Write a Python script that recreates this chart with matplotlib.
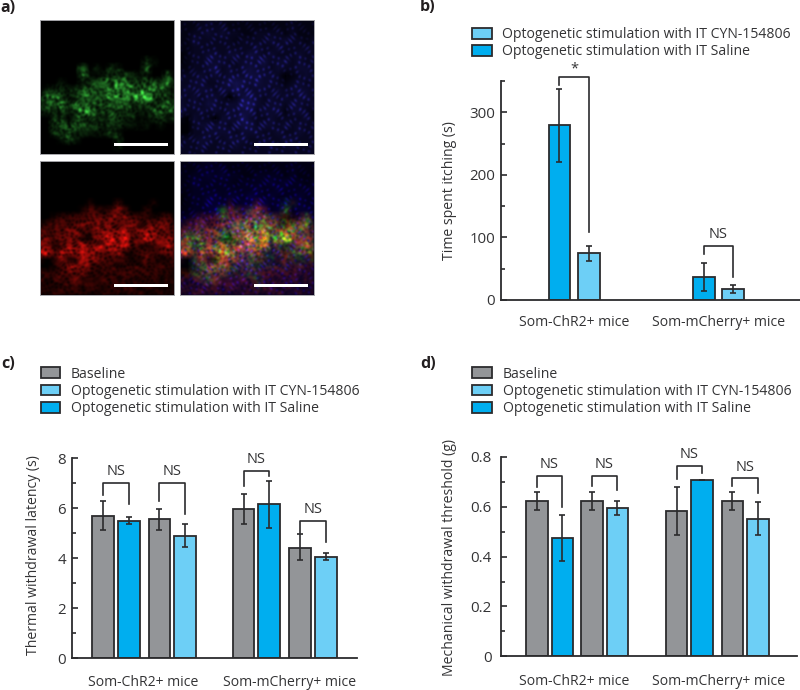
import numpy as np
import matplotlib
matplotlib.use("Agg")
import matplotlib.pyplot as plt
from matplotlib.patches import Patch, Rectangle

plt.rcParams['font.family'] = ['Open Sans', 'DejaVu Sans']

# ---- data ----
groups = ["Som-ChR2+ mice", "Som-mCherry+ mice"]
legend_labels = ["Baseline", "Optogenetic stimulation with IT CYN-154806", "Optogenetic stimulation with IT Saline"]

# panel b
b_values = [279, 74.7, 37.3, 17.6]
b_upper = [336.5, 86.4, 59, 23.5]
b_lower = [220.8, 63, 15, 11.2]
b_ticks = [0, 100, 200, 300]
b_minor = [50, 150, 250, 350]
# bracket: left bar, right bar, top, left end, right end, text
b_brackets = [(0, 1, 356, 344, 108, "*"), (2, 3, 86.4, 73.6, 37.3, "NS")]

# panel c
c_values = [5.7, 5.5, 5.55, 4.87, 5.95, 6.15, 4.42, 4.05]
c_upper = [6.27, 5.64, 5.95, 5.35, 6.55, 7.09, 4.95, 4.2]
c_lower = [5.13, 5.36, 5.11, 4.43, 5.35, 5.2, 3.91, 3.92]
c_ticks = [0, 2, 4, 6, 8]
c_minor = [1, 3, 5, 7]
c_brackets = [(0, 1, 7.0, 6.53, 6.16, "NS"), (2, 3, 7.01, 6.27, 5.76, "NS"),
              (4, 5, 7.48, 6.89, 7.28, "NS"), (6, 7, 5.49, 5.01, 4.65, "NS")]

# panel d
d_values = [0.625, 0.474, 0.625, 0.594, 0.582, 0.709, 0.625, 0.551]
d_upper = [0.66, 0.566, 0.66, 0.623, 0.68, 0.709, 0.66, 0.618]
d_lower = [0.586, 0.383, 0.586, 0.567, 0.487, 0.709, 0.586, 0.487]
d_ticks = [0, 0.2, 0.4, 0.6, 0.8]
d_tick_labels = ["0", "0.2", "0.4", "0.6", "0.8"]
d_minor = [0.1, 0.3, 0.5, 0.7]
d_brackets = [(0, 1, 0.724, 0.681, 0.60, "NS"), (2, 3, 0.725, 0.684, 0.666, "NS"),
              (4, 5, 0.764, 0.71, 0.737, "NS"), (6, 7, 0.714, 0.684, 0.657, "NS")]

# micrographs, coarse brightness read by eye (0-9), 20 x 20 cells
green_rows = [
    "00000000000000000000",
    "00000000000000000000",
    "00000000000000000000",
    "00000000000000000000",
    "00000000000000000000",
    "00000000000000000000",
    "00000000000000021000",
    "00000050102200040000",
    "00000041022342110040",
    "00010012356654344242",
    "02221235348764467422",
    "34531452346565993322",
    "33362546433453432253",
    "12222365324332213334",
    "00230243222312011212",
    "00333432212211110100",
    "00224221113100000000",
    "00013100000300000000",
    "00000000000100000000",
    "00000000000000000000",
]
red_rows = [
    "00000000000000000000",
    "00000000000000000000",
    "00000000000000000000",
    "00000000000000000000",
    "00000000000000000000",
    "00000000000000000000",
    "00000001000300001000",
    "00000013212530020000",
    "00122334435443221230",
    "12333444555445334442",
    "33334532555764567443",
    "44345511579683487453",
    "54135765768773312464",
    "88376776544611332343",
    "10151166443321132112",
    "00136553232222222222",
    "22233342222222222221",
    "21222322122221222121",
    "12122212212122121111",
    "21221221121212211211",
]
blue_rows = [
    "11112111111111111111",
    "11122221111111112111",
    "11223232211222212111",
    "11322222122223232212",
    "11222222222322322222",
    "01223323324323222322",
    "01223332233342332322",
    "11223423234332322332",
    "22232323334433201232",
    "22332234543433212322",
    "23233233533332323332",
    "32323320244323232332",
    "32324323355323323323",
    "42232323344233313321",
    "10322033353223222231",
    "00233332344233232322",
    "00223333233322322322",
    "22233223332232233222",
    "22232232322223223222",
    "22222222222222222222",
]

# ---- colours ----
gray = "#939598"
cyn = "#6dcff6"
saline = "#00aeef"
dark = "#2b2b2d"
text_col = "#333335"
font_size = 10.1

W, H = 800.0, 690.0
fig = plt.figure(figsize=(8, 6.9), dpi=100)


def px_axes(x0, x1, y_top, y_bottom):
    return fig.add_axes([x0 / W, 1 - y_bottom / H, (x1 - x0) / W, (y_bottom - y_top) / H])


def upsample(rows, n=134):
    a = np.array([[int(c) for c in r] for r in rows], dtype=float) / 9.0
    src = np.linspace(0, n - 1, a.shape[0])
    dst = np.arange(n)
    a = np.array([np.interp(dst, src, row) for row in a])
    return np.array([np.interp(dst, src, col) for col in a.T]).T


def soften(a):
    k = np.array([1, 2, 1]) / 4.0
    a = np.apply_along_axis(lambda v: np.convolve(v, k, mode="same"), 0, a)
    return np.apply_along_axis(lambda v: np.convolve(v, k, mode="same"), 1, a)


def texture(n, a, b, power, f=1.0):
    # wavy cells, only so the panels look like tissue and not smooth blobs
    yy, xx = np.mgrid[0:n, 0:n] * f
    s = (np.sin(xx * 0.83 + 2.6 * np.sin(yy * 0.31 + a) + 1.9 * np.sin(xx * 0.13 + yy * 0.23))
         + np.sin(yy * 0.97 + 2.3 * np.sin(xx * 0.27 + b) + 1.7 * np.sin(yy * 0.17 - xx * 0.19))
         + np.sin((xx + yy) * 0.53 + 2.9 * np.sin((xx - yy) * 0.11 + a + b)))
    return soften((1 - np.abs(s) / 3.0) ** power)


def dots(n, a, b):
    yy, xx = np.mgrid[0:n, 0:n]
    s = np.sin(xx * 0.71 + 1.9 * np.sin(yy * 0.29 + a)) * np.sin(yy * 0.67 + 2.1 * np.sin(xx * 0.23 + b))
    return soften(np.clip(s, 0, 1) ** 3)


n = 134
g = np.clip(soften(upsample(green_rows) * texture(n, 0.4, 1.3, 6, 1.25) * 2.7), 0, 1)
r = np.clip(soften(upsample(red_rows) * texture(n, 2.1, 0.6, 2.6, 1.15) * 1.75), 0, 1)
bl = np.clip(upsample(blue_rows) * (0.5 + 1.7 * dots(n, 4.0, 3.0)), 0, 1)

images = [
    (np.dstack([g * 0.28, g * 0.95, g * 0.3]), 40, 20),
    (np.dstack([bl * 0.25, bl * 0.22, bl * 0.95 + 0.02]), 180, 20),
    (np.dstack([r * 0.95, r * 0.07, r * 0.05]), 40, 161),
    (np.dstack([r * 0.95 + bl * 0.1, g * 0.75 + r * 0.22, bl * 0.95 + 0.02]), 180, 161),
]
for img, x0, y0 in images:
    ax = px_axes(x0, x0 + 134, y0, y0 + 134)
    ax.imshow(np.clip(img, 0, 1), interpolation="bilinear", aspect="auto")
    ax.set_xticks([])
    ax.set_yticks([])
    for s in ax.spines.values():
        s.set_color("#a7a7ab")
        s.set_linewidth(0.7)
    # scale bar
    ax.add_patch(Rectangle((73, 122.5), 54, 3, color="white", lw=0))


def bar_panel(box, x, colors, values, upper, lower, ticks, minor, top, tick_labels, ylabel, brackets,
              tick_pad, label_x, label_y, group_x, group_pad):
    ax = px_axes(*box)
    ax.bar(x, values, width=21.6, color=colors, edgecolor=dark, linewidth=1.3, zorder=2)
    values = np.array(values)
    yerr = [values - np.array(lower), np.array(upper) - values]
    ax.errorbar(x, values, yerr=yerr, fmt="none", ecolor=dark, elinewidth=1.2, capsize=1.9, capthick=1.2, zorder=3)
    for i, j, y_top, y_l, y_r, lab in brackets:
        ax.plot([x[i], x[i], x[j], x[j]], [y_l, y_top, y_top, y_r], color=dark, lw=1.2, clip_on=False, zorder=4)
        off = 6.0 if lab == "*" else 8.0
        ax.annotate(lab, ((x[i] + x[j]) / 2, y_top), xytext=(0, off), textcoords="offset points",
                    ha="center", va="center", fontsize=10.5, color=text_col, annotation_clip=False)
    ax.set_xlim(box[0], box[1])
    ax.set_ylim(0, top)
    ax.set_yticks(ticks)
    ax.set_yticklabels(tick_labels)
    ax.set_yticks(minor, minor=True)
    ax.tick_params(axis="y", which="major", direction="in", length=4, width=1.2, color=dark,
                   labelsize=10.8, labelcolor=text_col, pad=tick_pad)
    ax.tick_params(axis="y", which="minor", direction="in", length=3, width=1.2, color=dark)
    ax.set_xticks(group_x)
    ax.set_xticklabels(groups)
    ax.tick_params(axis="x", length=0, labelsize=font_size, labelcolor=text_col, pad=group_pad)
    for s in ["top", "right"]:
        ax.spines[s].set_visible(False)
    for s in ["left", "bottom"]:
        ax.spines[s].set_color(dark)
        ax.spines[s].set_linewidth(1.3)
    ax.set_ylabel(ylabel, fontsize=font_size, color=text_col)
    ax.yaxis.set_label_coords((label_x - box[0]) / (box[1] - box[0]), (box[3] - label_y) / (box[3] - box[2]))
    ax.set_facecolor("none")
    return ax


x_b = [559.3, 588.7, 703.8, 733]
x_c = [103, 128.7, 159.3, 185, 243.7, 269, 300, 326]
x_d = [536.7, 562.3, 591.7, 617.3, 676.5, 702, 732.3, 758.2]

bar_panel((500.7, 800, 81, 300), x_b, [saline, cyn, saline, cyn], b_values, b_upper, b_lower,
          b_ticks, b_minor, 350, [str(t) for t in b_ticks], "Time spent itching (s)", b_brackets,
          4.0, 457, 191, [574, 718.3], 10.5)
four = [gray, saline, gray, cyn, gray, saline, gray, cyn]
bar_panel((72.3, 357, 458, 658), x_c, four, c_values, c_upper, c_lower,
          c_ticks, c_minor, 8, [str(t) for t in c_ticks], "Thermal withdrawal latency (s)", c_brackets,
          4.5, 41, 555, [142.7, 290], 12.5)
bar_panel((501.3, 796.7, 457, 656.3), x_d, four, d_values, d_upper, d_lower,
          d_ticks, d_minor, 0.8, d_tick_labels, "Mechanical withdrawal threshold (g)", d_brackets,
          7.0, 457, 557, [574, 718.3], 13)


def legend_at(x, y, labels, colors):
    handles = [Patch(facecolor=c, edgecolor=dark, linewidth=1.3) for c in colors]
    fig.legend(handles, labels, loc="upper left", bbox_to_anchor=(x / W, 1 - y / H), frameon=False,
               fontsize=font_size, labelcolor=text_col, handlelength=1.42, handleheight=0.82,
               handletextpad=0.72, labelspacing=0.17, borderpad=0, borderaxespad=0)


legend_at(472, 27, legend_labels[1:], [cyn, saline])
legend_at(40.5, 366.5, legend_labels, [gray, cyn, saline])
legend_at(472.5, 366.5, legend_labels, [gray, cyn, saline])

# panel letters
for lab, x, y in [("a)", 0, 8), ("b)", 420, 7), ("c)", 1, 364), ("d)", 420, 364)]:
    fig.text(x / W, 1 - y / H, lab, fontsize=11.5, fontweight="bold", color="#231f20", va="center", ha="left")

fig.savefig("out.png", dpi=100)
